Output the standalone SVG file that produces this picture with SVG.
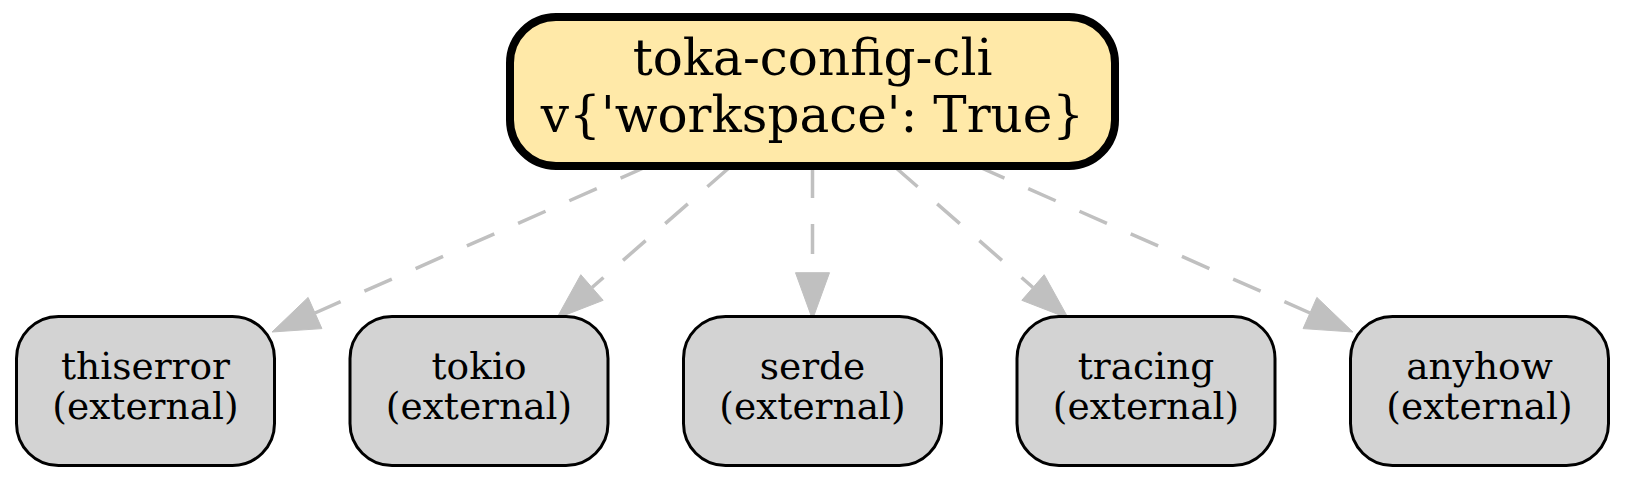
<svg xmlns="http://www.w3.org/2000/svg" width="1625" height="483" viewBox="0 0 1625 483">
<style>
.main rect{fill:#ffe9a8;stroke:#000;stroke-width:8}
.ext rect{fill:#d3d3d3;stroke:#000;stroke-width:3}
text{font-family:"DejaVu Serif",serif;text-anchor:middle;fill:#000}
.main text{font-size:50px}
.ext text{font-size:37.5px}
.edge line{stroke:#c0c0c0;stroke-width:3.5;stroke-dasharray:30,26;fill:none}
.edge polygon{fill:#c0c0c0;stroke:#c0c0c0;stroke-width:1}
</style>
<rect width="1625" height="483" fill="#fff"/>
<g id="connectors" class="edge">
<line x1="648" y1="166" x2="315" y2="313"/>
<polygon points="272,332 308.1,297.4 321.9,328.6"/>
<line x1="730" y1="167" x2="592" y2="287.5"/>
<polygon points="556.6,318.4 580.8,274.7 603.2,300.3"/>
<line x1="812.5" y1="168" x2="812.5" y2="272.7"/>
<polygon points="812.5,319.5 795.5,272.7 829.5,272.7"/>
<line x1="895" y1="167" x2="1033" y2="287.5"/>
<polygon points="1068.4,318.4 1044.2,274.7 1021.8,300.3"/>
<line x1="977" y1="166" x2="1310" y2="313"/>
<polygon points="1353,332 1316.9,297.4 1303.1,328.6"/>
</g>
<g id="toka-config-cli" class="main">
<rect x="510" y="17" width="605" height="149" rx="46" ry="46"/>
<text x="812.5" y="75">toka-config-cli</text>
<text x="812.5" y="132">v{'workspace': True}</text>
</g>
<g id="thiserror" class="ext">
<rect x="16.5" y="316.5" width="258" height="149" rx="42" ry="42"/>
<text x="145.5" y="379">thiserror</text>
<text x="145.5" y="419">(external)</text>
</g>
<g id="tokio" class="ext">
<rect x="350" y="316.5" width="258" height="149" rx="42" ry="42"/>
<text x="479" y="379">tokio</text>
<text x="479" y="419">(external)</text>
</g>
<g id="serde" class="ext">
<rect x="683.5" y="316.5" width="258" height="149" rx="42" ry="42"/>
<text x="812.5" y="379">serde</text>
<text x="812.5" y="419">(external)</text>
</g>
<g id="tracing" class="ext">
<rect x="1017" y="316.5" width="258" height="149" rx="42" ry="42"/>
<text x="1146" y="379">tracing</text>
<text x="1146" y="419">(external)</text>
</g>
<g id="anyhow" class="ext">
<rect x="1350.5" y="316.5" width="258" height="149" rx="42" ry="42"/>
<text x="1479.5" y="379">anyhow</text>
<text x="1479.5" y="419">(external)</text>
</g>
</svg>
